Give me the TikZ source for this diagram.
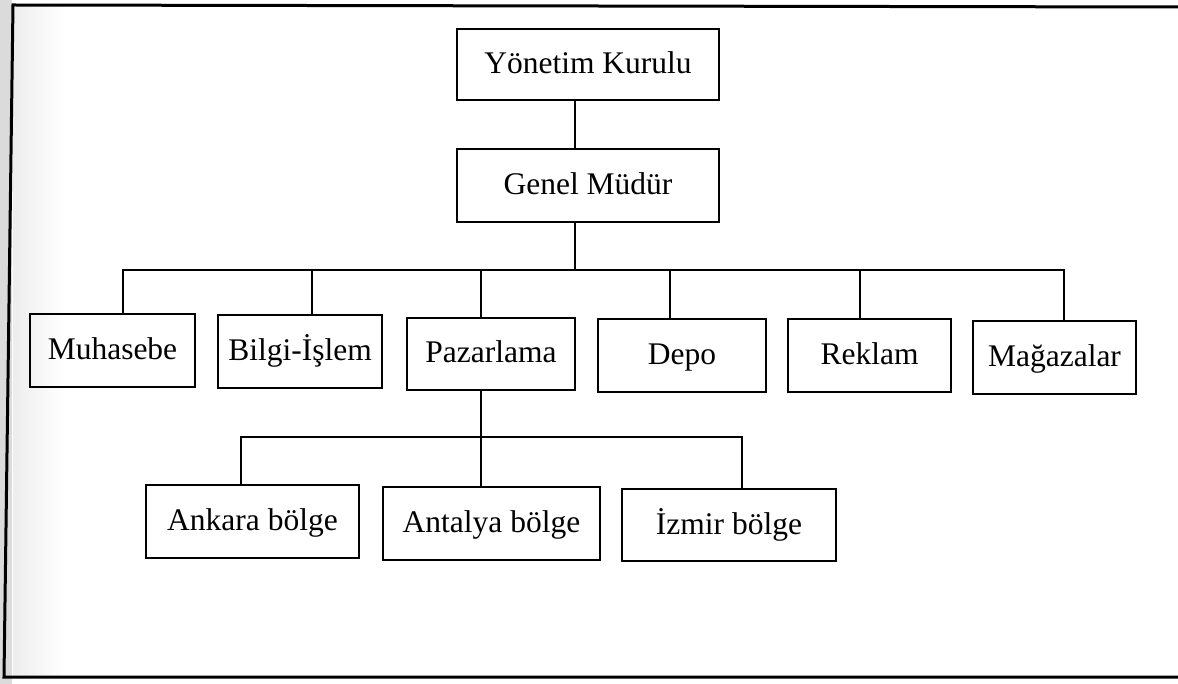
\documentclass[tikz,border=0pt]{standalone}
\usepackage{fontspec}
\setmainfont{Liberation Serif}
\begin{document}
\begin{tikzpicture}[x=1pt,y=-1pt,
  unitbox/.style={draw, line width=2.2pt, inner sep=0pt,
    font=\fontsize{31.5}{36}\selectfont, text height=24pt, text depth=6pt},
  link/.style={line width=2pt},
  framing/.style={line width=3pt}]
\useasboundingbox (0,0) rectangle (1178,684);

% light stipple along the left margin
\fill[gray!28] (0,0) rectangle (12,684);
\shade[left color=gray!14, right color=white] (13,6) rectangle (65,676);

% outer frame (open on the right)
\draw[framing] (1178,7) -- (13,5) -- (4,677) -- (1178,677);

% top levels
\node[unitbox, minimum width=262pt, minimum height=71pt] (yk) at (588,64.5) {Yönetim Kurulu};
\node[unitbox, minimum width=262pt, minimum height=73pt] (gm) at (588,185.5) {Genel Müdür};

% departments
\node[unitbox, minimum width=165pt, minimum height=73pt] (muh) at (112.5,350.5) {Muhasebe};
\node[unitbox, minimum width=164pt, minimum height=73pt] (bil) at (300,351.5) {Bilgi-İşlem};
\node[unitbox, minimum width=168pt, minimum height=72pt] (paz) at (491,354) {Pazarlama};
\node[unitbox, minimum width=168pt, minimum height=73pt] (dep) at (682,355.5) {Depo};
\node[unitbox, minimum width=163pt, minimum height=73pt] (rek) at (869.5,355.5) {Reklam};
\node[unitbox, minimum width=163pt, minimum height=73pt] (mag) at (1054.5,357.5) {Mağazalar};

% regional offices
\node[unitbox, minimum width=213pt, minimum height=73pt] (ank) at (252.5,521.5) {Ankara bölge};
\node[unitbox, minimum width=217pt, minimum height=73pt] (ant) at (491.5,523.5) {Antalya bölge};
\node[unitbox, minimum width=214pt, minimum height=72pt] (izm) at (729,525) {İzmir bölge};

% connector junctions
\coordinate (topx) at (575,0);
\coordinate (bus) at (0,270);
\coordinate (bus2) at (0,437);
\coordinate (cmuh) at (123,0);
\coordinate (cbil) at (312,0);
\coordinate (cpaz) at (481,0);
\coordinate (cdep) at (670,0);
\coordinate (crek) at (860,0);
\coordinate (cmag) at (1064,0);
\coordinate (cank) at (241,0);
\coordinate (cizm) at (742,0);

\draw[link] (topx |- yk.south) -- (topx |- gm.north);
\draw[link] (topx |- gm.south) -- (topx |- bus);
\draw[link] (cmuh |- muh.north) -- (cmuh |- bus) -- (cmag |- bus) -- (cmag |- mag.north);
\draw[link] (cbil |- bus) -- (cbil |- bil.north);
\draw[link] (cpaz |- bus) -- (cpaz |- paz.north);
\draw[link] (cdep |- bus) -- (cdep |- dep.north);
\draw[link] (crek |- bus) -- (crek |- rek.north);

\draw[link] (cpaz |- paz.south) -- (cpaz |- ant.north);
\draw[link] (cank |- ank.north) -- (cank |- bus2) -- (cizm |- bus2) -- (cizm |- izm.north);
\end{tikzpicture}
\end{document}
